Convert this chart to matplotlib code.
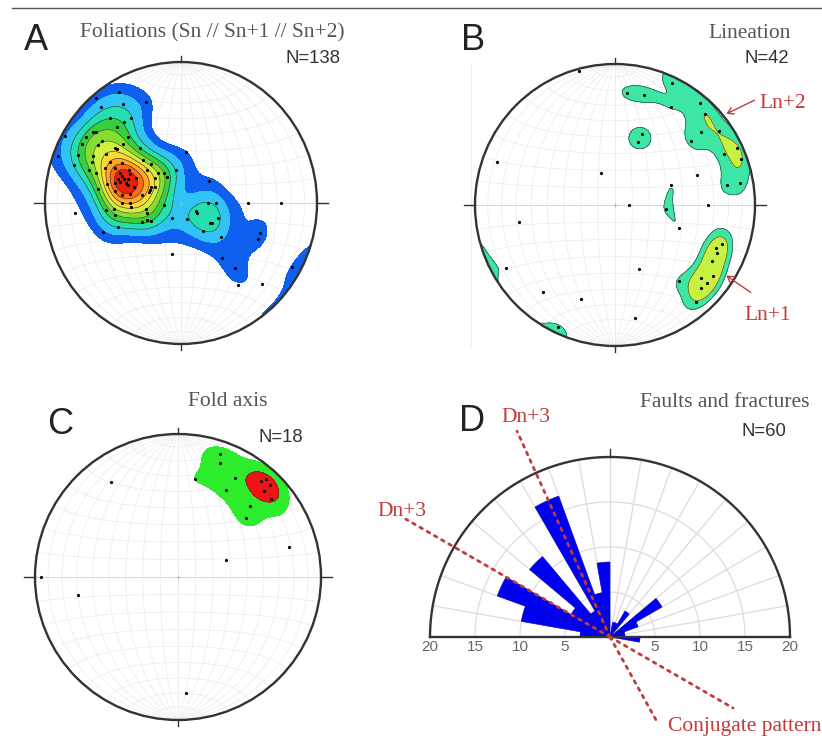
import numpy as np
import matplotlib
matplotlib.use("Agg")
import matplotlib.pyplot as plt
from matplotlib.patches import Circle, Wedge, FancyArrowPatch

# ---------------- data ----------------
# A: poles to foliations (trend / plunge, degrees)
A_trend = [265, 250, 250, 265, 265, 260, 270, 270, 266, 260, 254, 245, 244, 240, 264, 212, 190, 160,
           121, 119, 90, 90, 141, 124, 121, 111, 129, 142, 139, 144, 134, 90, 90, 110, 114, 119,
           330, 320, 340, 319, 329, 329, 319, 324, 319, 308, 309, 299, 304, 320, 307,
           300, 304, 309, 309, 322, 314, 294, 302, 290, 297, 317, 294, 299, 289, 321, 303, 301,
           294, 289, 322, 330, 313, 289, 295, 294, 290, 292, 298, 313, 286, 288, 288, 284, 297,
           292, 288, 279, 280, 277, 280, 281, 301, 330, 6, 351, 52, 294, 299, 289, 288, 297]
A_plunge = [23, 39, 49, 44, 49, 49, 54, 59, 60, 69, 69, 64, 67, 69, 80, 80, 60, 80,
            79, 80, 74, 69, 69, 69, 68, 66, 59, 49, 39, 29, 18, 49, 27, 38, 38, 7,
            10, 3, 25, 11, 19, 30, 21, 30, 29, 19, 21, 3, 17, 39, 28,
            17, 27, 38, 39, 49, 40, 18, 35, 4, 28, 56, 29, 40, 18, 61, 47, 53,
            39, 29, 68, 70, 62, 34, 49, 51, 49, 53, 59, 69, 48, 56, 60, 43, 70,
            70, 70, 38, 49, 54, 59, 66, 72, 73, 60, 71, 69, 55, 55, 55, 51, 45]
# B: lineations
B_trend = [345, 6, 15, 25, 30, 40, 45, 50, 50, 55, 65, 65, 70, 21, 20, 290, 336, 70, 71, 80, 80,
           90, 90, 94, 110, 260, 110, 115, 113, 120, 240, 159, 130, 126, 130, 134, 140, 140,
           220, 200, 170, 205]
B_plunge = [2, 21, 20, 5, 21, 6, 10, 21, 30, 10, 15, 4, 5, 45, 51, 11, 70, 38, 55, 20, 10,
            82, 34, 60, 50, 31, 20, 21, 23, 21, 11, 50, 21, 15, 15, 16, 30, 11, 21, 30, 20, 5]
# C: fold axes
C_trend = [19, 20, 10, 30, 29, 41, 42, 45, 45, 50, 45, 49, 325, 75, 70, 270, 260, 176]
C_plunge = [10, 16, 31, 21, 31, 12, 9, 10, 16, 16, 30, 37, 20, 21, 61, 5, 30, 20]
# D: rose diagram of faults and fractures (10 degree bins, % of N=60)
D_bin_start = [270, 280, 290, 300, 310, 320, 330, 340, 350, 10, 20, 30, 50, 60, 70, 80, 90]
D_percent = [3.33, 10.0, 13.33, 5.0, 11.67, 3.33, 16.67, 5.0, 8.33, 1.67, 1.67, 3.33, 6.67,
             3.33, 1.67, 1.67, 3.33]
D_ticks = [20, 15, 10, 5, 5, 10, 15, 20]
# conjugate directions (azimuth, length in % units)
conj_az = [335.7, 151.0, 300.0, 120.0]
conj_len = [25.1, 10.5, 26.2, 15.8]

# ---------------- helpers ----------------
W, H = 822, 738
fig = plt.figure(figsize=(W / 100, H / 100), dpi=100)
SERIF = "Liberation Serif"
SANS = "Liberation Sans"
RED = "#c43a3a"


def ftext(x, y, s, **kw):
    fig.text(x / W, 1 - y / H, s, **kw)


def line_vec(trend, plunge):
    t = np.radians(np.asarray(trend, float))
    p = np.radians(np.asarray(plunge, float))
    return np.stack([np.cos(p) * np.sin(t), np.cos(p) * np.cos(t), -np.sin(p)], -1)


def project(v):
    v = np.asarray(v, float)
    v = np.where(v[..., 2:3] > 0, -v, v)
    x, y, z = v[..., 0], v[..., 1], v[..., 2]
    th = np.arccos(np.clip(-z, -1, 1))
    r = np.sqrt(2) * np.sin(th / 2)
    h = np.hypot(x, y)
    h = np.where(h == 0, 1, h)
    return r * x / h, r * y / h


def inverse(X, Y):
    r = np.clip(np.hypot(X, Y), 0, 1)
    th = 2 * np.arcsin(r / np.sqrt(2))
    tr = np.arctan2(X, Y)
    return np.stack([np.sin(th) * np.sin(tr), np.sin(th) * np.cos(tr), -np.cos(th)], -1)


def stereonet(cx, cy, rx, ry, trend, plunge, k, levels, colors, line_levels, line_col="#3a3a3a"):
    L = 1.12
    ax = fig.add_axes([(cx - rx * L) / W, 1 - (cy + ry * L) / H, 2 * rx * L / W, 2 * ry * L / H])
    ax.set_xlim(-L, L)
    ax.set_ylim(-L, L)
    ax.axis("off")
    gc = "#ebebeb"
    phi = np.linspace(0, np.pi, 181)
    for d in range(10, 91, 10):
        for s in (1, -1):
            dv = np.array([s * np.cos(np.radians(d)), 0, -np.sin(np.radians(d))])
            sv = np.array([0, 1, 0])
            v = np.cos(phi)[:, None] * sv + np.sin(phi)[:, None] * dv
            x, y = project(v)
            ax.plot(x, y, color=gc, lw=0.5, zorder=1)
    for a in range(10, 180, 10):
        ar = np.radians(a)
        v = np.stack([np.sin(ar) * np.cos(phi), np.full_like(phi, np.cos(ar)),
                      -np.sin(ar) * np.sin(phi)], -1)
        x, y = project(v)
        ax.plot(x, y, color=gc, lw=0.5, zorder=1)
    ax.plot([-1, 1], [0, 0], color="#d4d4d4", lw=0.6, zorder=1)
    # density (axial exponential kernel)
    g = np.linspace(-1.03, 1.03, 230)
    X, Y = np.meshgrid(g, g)
    G = inverse(X, Y).reshape(-1, 3)
    P = line_vec(trend, plunge)
    Z = np.exp(k * (np.abs(G @ P.T) - 1)).sum(1).reshape(X.shape)
    clip = Circle((0, 0), 1, transform=ax.transData)
    lv = list(levels) + [max(Z.max(), levels[-1]) + 1]
    cs = ax.contourf(X, Y, Z, levels=lv, colors=colors, zorder=2)
    cs.set_clip_path(clip)
    if line_levels:
        cl = ax.contour(X, Y, Z, levels=line_levels, colors=line_col, linewidths=0.45, zorder=3)
        cl.set_clip_path(clip)
    ax.add_patch(Circle((0, 0), 1, fill=False, ec="#333333", lw=1.7, zorder=6))
    for (x0, y0, x1, y1) in [(0, 1, 0, 1.045), (0, -1, 0, -1.045), (1, 0, 1.08, 0), (-1, 0, -1.08, 0)]:
        ax.plot([x0, x1], [y0, y1], color="#333333", lw=1.0, zorder=6)
    ax.plot(0, 0, "+", color="#b0b0b0", ms=3, mew=0.6, zorder=4)
    x, y = project(line_vec(trend, plunge))
    ax.plot(x, y, "o", ms=2.3, color="black", mec="none", zorder=5)
    return ax


# top rule
fig.add_artist(plt.Line2D([12 / W, 1], [1 - 8 / H, 1 - 8 / H], color="#555555", lw=1.0))

# ---------------- A ----------------
colsA = ["#1060f0", "#30c4f5", "#24e0b0", "#34d040", "#84e030", "#d2f040",
         "#ffd834", "#ffa824", "#ff6a14", "#e82010"]
levA = [2.0, 3.6, 5.4, 7.2, 9.0, 10.8, 12.6, 14.4, 16.2, 18.0]
axA = stereonet(181, 203, 136, 141, A_trend, A_plunge, 40, levA, colsA, levA[2:])
ftext(24, 50, "A", fontsize=26, family=SANS, color="#222222")
ftext(80, 37, "Foliations (Sn // Sn+1 // Sn+2)", fontsize=15.5, family=SERIF, color="#555555")
ftext(285, 63, "N=138", fontsize=13.3, family=SANS, color="#333333")

# ---------------- B ----------------
levB = [1.25, 2.3, 4.5]
axB = stereonet(615, 205, 140, 141, B_trend, B_plunge, 70, levB,
                ["#3ee6a6", "#c8f040", "#8a4a10"], levB)
axB.plot([-1.03, -1.03], [-1.0, 1.0], color="#eeeeee", lw=0.8, zorder=1)
ftext(461, 50, "B", fontsize=26, family=SANS, color="#222222")
ftext(791, 38, "Lineation", fontsize=15.5, family=SERIF, color="#555555", ha="right")
ftext(789, 63, "N=42", fontsize=13.3, family=SANS, color="#333333", ha="right")
ftext(759, 108, "Ln+2", fontsize=15.5, family=SERIF, color=RED)
ftext(744, 320, "Ln+1", fontsize=15.5, family=SERIF, color=RED)
for (xa, ya), (xb, yb) in [((757, 99), (724, 115)), ((753, 294), (724, 274))]:
    fig.add_artist(FancyArrowPatch((xa / W, 1 - ya / H), (xb / W, 1 - yb / H),
                                   transform=fig.transFigure,
                                   arrowstyle="->,head_length=4,head_width=2.5",
                                   color=RED, lw=1.0))

# ---------------- C ----------------
levC = [1.2, 3.0]
axC = stereonet(178, 577, 143, 143, C_trend, C_plunge, 58, levC,
                ["#2cec2c", "#ee1414"], levC[1:])
ftext(47, 434, "C", fontsize=26, family=SANS, color="#222222")
ftext(188, 406, "Fold axis", fontsize=15.5, family=SERIF, color="#555555")
ftext(258, 442, "N=18", fontsize=13.3, family=SANS, color="#333333")

# ---------------- D ----------------
cxD, cyD, s = 610, 637, 9.0
x0, x1, y0, y1 = 380, 822, 380, 738
axD = fig.add_axes([x0 / W, 1 - y1 / H, (x1 - x0) / W, (y1 - y0) / H])
axD.set_xlim((x0 - cxD) / s, (x1 - cxD) / s)
axD.set_ylim((cyD - y1) / s, (cyD - y0) / s)
axD.axis("off")
gcol = "#dcdcdc"
th = np.linspace(0, np.pi, 200)
for rr in (5, 10, 15):
    axD.plot(rr * np.cos(th), rr * np.sin(th), color=gcol, lw=0.9, zorder=1)
for a in range(-80, 90, 10):
    ar = np.radians(90 - a)
    axD.plot([0, 20 * np.cos(ar)], [0, 20 * np.sin(ar)], color=gcol, lw=0.9, zorder=1)
for b, p in zip(D_bin_start, D_percent):
    axD.add_patch(Wedge((0, 0), p, 90 - (b + 10), 90 - b, facecolor="#0000f0",
                        edgecolor="#0000c0", lw=0.4, zorder=3, clip_on=False))
axD.plot(20 * np.cos(th), 20 * np.sin(th), color="#333333", lw=1.7, zorder=5)
axD.plot([-20, 20], [0, 0], color="#333333", lw=1.7, zorder=5)
axD.plot([0, 0], [20, 20.9], color="#333333", lw=1.0, zorder=5)
for i, t in enumerate(D_ticks):
    xv = -t if i < len(D_ticks) // 2 else t
    axD.text(xv, -1.55, str(t), ha="center", va="baseline", fontsize=11, family=SANS,
             color="#666666")
for j in range(len(conj_az)):
    a = np.radians(conj_az[j])
    axD.plot([0, conj_len[j] * np.sin(a)], [0, conj_len[j] * np.cos(a)], color=RED,
             lw=2.0, ls=(0, (1.0, 2.0)), dash_capstyle="round", zorder=6, clip_on=False)
ftext(459, 431, "D", fontsize=26, family=SANS, color="#222222")
ftext(501, 422, "Dn+3", fontsize=15.5, family=SERIF, color=RED)
ftext(426, 516, "Dn+3", fontsize=15.5, family=SERIF, color=RED, ha="right")
ftext(809, 407, "Faults and fractures", fontsize=15.5, family=SERIF, color="#555555", ha="right")
ftext(741, 436, "N=60", fontsize=13.3, family=SANS, color="#333333")
ftext(668, 731, "Conjugate pattern", fontsize=15.5, family=SERIF, color=RED)

fig.savefig("out.png", dpi=100)
